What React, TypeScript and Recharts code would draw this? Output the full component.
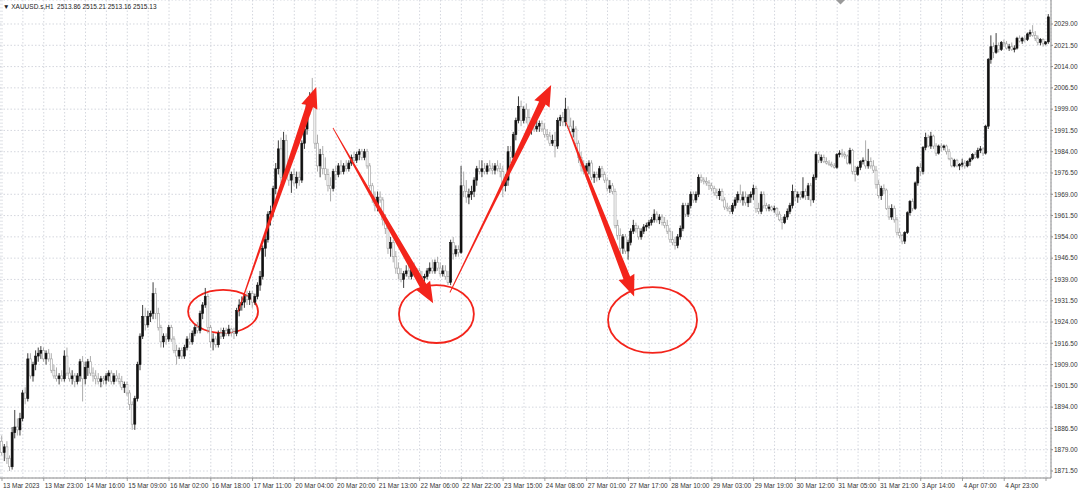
import React from 'react';
import { ComposedChart, Bar, XAxis, YAxis, CartesianGrid, ReferenceLine, ReferenceArea } from 'recharts';

const FONT = '"Liberation Sans", Arial, sans-serif';

// [open, high, low, close] per hourly bar
const week1: number[][] = [
  [1882,1884,1877,1878],[1878,1881,1875,1880],[1880,1882,1874,1876],[1876,1877,1871.5,1873],[1873,1887,1872,1885],
  [1885,1893,1883,1887],[1887,1890,1884,1886],[1886,1892,1884,1890],[1890,1900,1889,1899],[1899,1901,1895,1897],
  [1897,1913,1896,1911],[1911,1913,1904,1905],[1905,1910,1903,1909],[1909,1914,1907,1912],[1912,1915,1910,1913],
  [1913,1915.5,1911,1914],[1914,1915,1910,1911],[1911,1914,1909,1913],[1913,1914.5,1910,1911],[1911,1913,1906,1907],
  [1907,1909,1904,1905],[1905,1908,1903,1904],[1904,1906,1902,1905],[1905,1907,1903,1904],[1904,1914,1903,1912],
  [1912,1915,1905,1906],[1906,1908,1903,1904],[1904,1907,1902,1905],[1905,1906,1901,1903],[1903,1906,1902,1905],
  [1905,1911,1903,1910],[1910,1912,1896,1904],[1904,1910,1902,1908],[1908,1911,1905,1910],[1910,1912,1905,1906],
  [1906,1908,1903,1905],[1905,1907,1902,1904],[1904,1906,1902,1903],[1903,1905,1901,1904],[1904,1905,1902,1903.5],
  [1903.5,1906,1902,1905],[1905,1907,1903,1906],[1906,1907,1902,1903],[1903,1906,1902,1905],[1905,1907,1903,1904],
  [1904,1906,1902,1903],[1903,1905,1900,1901],[1901,1903,1899,1902],[1902,1903,1898,1899],[1899,1900,1893,1895],
  [1895,1896,1886,1888],[1888,1898,1886,1897],[1897,1910,1896,1909],[1909,1920,1907,1919],[1919,1930,1918,1926],
  [1926,1929,1921,1923],[1923,1928,1922,1926],[1926,1928,1924,1927],[1927,1938,1925,1934],[1934,1936,1925,1927],
  [1927,1929,1921,1922],[1922,1923,1915,1917],[1917,1920,1915,1919],[1919,1920,1916,1918],[1918,1923,1917,1922],
  [1922,1923,1917,1918],[1918,1919,1913,1914],[1914,1916,1909,1912],[1912,1915,1911,1914],[1914,1915,1911,1912],
  [1912,1916,1911,1915],[1915,1919,1914,1918],[1918,1920,1916,1917],[1917,1921,1916,1920],[1920,1923,1919,1922],
  [1922,1924,1920,1921],[1921,1928,1920,1927],[1927,1931,1925,1930],[1930,1936,1929,1933],[1933,1934,1920,1922],
  [1922,1923,1915,1917],[1917,1920,1914,1918],[1918,1919,1915,1916],[1916,1921,1915,1920],[1920,1922,1918,1919],
  [1919,1922,1918,1921],[1921,1922,1919,1920],[1920,1923,1919,1921.5],[1921.5,1922,1919,1920.5],[1920.5,1922,1918,1920],
  [1920,1929,1919,1928],[1928,1932,1926,1930],[1930,1933,1928,1931],[1931,1934,1929,1933],[1933,1935,1930,1932],
  [1932,1935,1930,1934],[1934,1935,1929,1931],[1931,1934,1930,1933],[1933,1938,1932,1937],[1937,1942,1935,1940],
  [1940,1951,1939,1950],[1950,1955,1947,1953],[1953,1963,1952,1962],[1962,1965,1958,1963],[1963,1972,1961,1971],
  [1971,1980,1969,1978],[1978,1988,1976,1985],[1985,1989,1973,1975],[1975,1991,1973,1988],
];

const week2: number[][] = [
  [1988,1990,1976,1978],[1978,1981,1972,1974],[1974,1977,1969.5,1976],[1976,1978,1972,1973],[1973,1977,1971,1975],
  [1975,1977,1972,1974],[1974,1988,1973,1987],[1987,1993,1985,1992],[1992,2002,1990,2001],[2001,2005,1997,2003],
  [2003,2010,2000,2002],[2002,2004,1985,1987],[1987,1990,1977,1979],[1979,1985,1975,1983],[1983,1986,1976,1978],
  [1978,1982,1974,1976],[1976,1978,1970,1972],[1972,1975,1966.5,1971],[1971,1978,1970,1977],[1977,1979,1974,1976],
  [1976,1980,1975,1979],[1979,1981,1976,1977],[1977,1980,1976,1979],[1979,1981,1977,1978],[1978,1981,1977,1980],
  [1980,1983,1979,1982],[1982,1984,1980,1981],[1981,1984,1980,1983],[1983,1985,1981,1984],[1984,1985,1981,1982],
  [1982,1985,1981,1984],[1984,1985,1978,1979],[1979,1980,1971,1972],[1972,1973,1966,1968],[1968,1970,1963,1965],
  [1965,1970,1963,1968],[1968,1970,1966,1967],[1967,1968,1958,1960],[1960,1962,1955,1957],[1957,1959,1948,1950],
  [1950,1954,1947,1952],[1952,1953,1945,1947],[1947,1949,1941,1943],[1943,1945,1939,1941],[1941,1943,1938,1939],
  [1939,1942,1936,1941],[1941,1944,1940,1942],[1942,1944,1939,1940],[1940,1944,1939,1943],[1943,1945,1940,1941],
  [1941,1943,1939,1942],[1942,1943,1939,1940],[1940,1942,1938.5,1939.5],[1939.5,1941,1938,1940],[1940,1943,1939,1942],
  [1942,1945,1941,1943],[1943,1946,1941,1942],[1942,1946,1941,1945],[1945,1947,1942,1943],[1943,1945,1940,1941],
  [1941,1944,1940,1942],[1942,1944,1939,1940],[1940,1942,1937,1938],[1938,1953,1937,1952],[1952,1954,1946,1948],
  [1948,1951,1947,1949.5],[1949.5,1951,1947,1948.5],[1948.5,1979,1948,1972],[1972,1977,1968,1970],[1970,1974,1966,1968],
  [1968,1971,1965.5,1969],[1969,1972,1967,1970],[1970,1975,1968,1974],[1974,1979,1972,1978],[1978,1981,1976,1977],
  [1977,1981,1975,1978],[1978,1980,1976,1977],[1977,1980,1976,1979],[1979,1981,1977,1978],[1978,1980,1976,1977.5],
  [1977.5,1980,1976,1979],[1979,1981,1977,1978],[1978,1980,1975,1977],[1977,1979,1968,1972],[1972,1976,1970,1974],
  [1974,1986,1972,1984],[1984,1986,1980,1982],[1982,1991,1981,1990],[1990,1996,1988,1995],[1995,2003.5,1994,2000],
  [2000,2002,1993,1995],[1995,2000,1994,1999],[1999,2001,1994,1996],[1996,1999,1991,1992],[1992,1995,1990,1994],
  [1994,1995,1991,1992],[1992,1995,1991,1993],[1993,1995,1991,1994],[1994,1995,1991,1992],[1992,1994,1989,1990],
  [1990,1992,1988,1989.5],[1989.5,1991,1986,1987],[1987,1990,1986,1988],[1988,1991,1982,1986],[1986,1996,1985,1995],
  [1995,1997,1993,1996],[1996,1998,1993,1994.5],[1994.5,2003,1993,1999],[1999,2000,1992,1993],[1993,1996,1990,1991],
  [1991,1995,1989,1992],[1992,1993,1986,1987],[1987,1988,1980,1982],[1982,1984,1977,1979],[1979,1981,1976,1977],
];

const week3: number[][] = [
  [1977,1980,1975,1979],[1979,1981,1976,1980],[1980,1981,1974,1975],[1975,1977,1973,1976],[1976,1977,1973.5,1975],
  [1975,1979,1974,1978],[1978,1979,1975,1976],[1976,1977,1973,1974],[1974,1975,1970,1971],[1971,1974,1969.5,1972],
  [1972,1973,1969,1970],[1970,1971,1957,1958],[1958,1960,1953,1954.5],[1954.5,1957,1948,1950],[1950,1955,1948,1954],
  [1954,1955,1948,1949],[1949,1953,1946,1952],[1952,1957,1951,1956],[1956,1960,1955,1958],[1958,1959,1955.5,1957],
  [1957,1958,1953,1954],[1954,1957,1953,1956],[1956,1958.5,1955,1957.5],[1957.5,1959,1956,1958],[1958,1960,1957,1959],
  [1959,1961,1958,1960],[1960,1963.7,1959,1962],[1962,1963,1959,1960],[1960,1962,1958.5,1961],[1961,1962,1958,1959],
  [1959,1961,1957,1958],[1958,1960,1955,1956],[1956,1957,1952,1953],[1953,1956,1951,1952],[1952,1954,1949.5,1951],
  [1951,1955,1950,1954],[1954,1958,1953,1957],[1957,1966,1956,1965],[1965,1966,1961,1962],[1962,1966,1961,1965],
  [1965,1970,1964,1969],[1969,1970,1966,1967],[1967,1970,1966,1969],[1969,1976,1968,1975],[1975,1976,1973,1974],
  [1974,1975,1972.5,1973.5],[1973.5,1975,1972,1973],[1973,1974,1970.5,1972],[1972,1973,1970,1971],[1971,1972,1968.5,1969.5],
  [1969.5,1971,1967.5,1968.5],[1968.5,1971,1967,1970],[1970,1971,1966.5,1967],[1967,1968,1963.5,1964.5],[1964.5,1966,1963,1964],
  [1964,1965,1962,1963],[1963,1966,1962,1965],[1965,1968,1964,1967],[1967,1970,1966,1969],[1969,1972.4,1966,1967],
  [1967,1970,1965,1968],[1968,1970,1965,1966],[1966,1969,1964.5,1968],[1968,1970,1966,1969],[1969,1972.4,1967,1971],
  [1971,1972,1962.5,1964],[1964,1966,1962,1963],[1963,1970,1962,1969],[1969,1970,1964,1965],[1965,1966,1963,1964],
  [1964,1965.5,1963,1964.5],[1964.5,1965,1963,1963.5],[1963.5,1965,1962.5,1964],[1964,1964.5,1961,1962],[1962,1963,1959.5,1960],
  [1960,1961,1956.6,1959],[1959,1962,1958.5,1961],[1961,1964,1960,1963],[1963,1966,1962,1965],[1965,1972.4,1964,1970],
  [1970,1971,1966.5,1968],[1968,1970,1966,1969],[1969,1970,1967,1968],[1968,1975,1967.5,1970],[1970,1971,1967,1968.5],
  [1968.5,1973,1967,1972],[1972,1973,1964.8,1967],[1967,1976,1966,1975],[1975,1984,1974,1983],[1983,1984,1980,1981],
  [1981,1983,1980,1982],[1982,1983,1980,1980.5],[1980.5,1982,1979.5,1980],[1980,1981,1979,1979.5],[1979.5,1980.5,1978.5,1979],
  [1979,1980,1978,1978.5],[1978.5,1983.5,1978,1983],[1983,1984.5,1982,1983.5],[1983.5,1985,1982,1983],[1983,1984,1981.5,1982.5],
  [1982.5,1983,1979.5,1980],[1980,1985.4,1979.5,1984.5],[1984.5,1985,1976,1977],[1977,1979,1973.5,1976],[1976,1979,1975.5,1978.5],
  [1978.5,1981,1977.5,1980.5],[1980.5,1982,1979.5,1981],[1981,1988,1978,1979],[1979,1985,1978,1980.5],[1980.5,1982,1978,1979],
  [1979,1981,1976.5,1977.5],[1977.5,1979,1971,1972.5],[1972.5,1974,1967.5,1968.5],[1968.5,1972,1967,1971],[1971,1972.5,1969,1970.5],
];

const week4: number[][] = [
  [1970.5,1971,1963.5,1964],[1964,1965,1960,1961],[1961,1965.5,1960,1964],[1964,1965,1959,1960],[1960,1961,1954.5,1955.5],
  [1955.5,1957,1953.5,1954.5],[1954.5,1955,1951.4,1952.5],[1952.5,1956,1951.5,1955.5],[1955.5,1963,1955,1962.5],[1962.5,1967,1961.5,1966.5],
  [1966.5,1967.5,1963,1964],[1964,1973.5,1963.5,1973],[1973,1979,1972,1978.5],[1978.5,1980,1975.5,1977],[1977,1986,1976,1985.5],
  [1985.5,1990.7,1984.5,1989],[1989,1990,1985.5,1986],[1986,1991,1985,1989.5],[1989.5,1990,1985,1986],[1986,1987,1982.5,1983.5],
  [1983.5,1986.5,1983,1986],[1986,1987,1984,1985.5],[1985.5,1986.5,1984.5,1986],[1986,1986.5,1983,1984],[1984,1985,1981,1981.5],
  [1981.5,1982,1978.5,1979],[1979,1981.5,1978.5,1981],[1981,1981.5,1978.5,1979],[1979,1980,1977.5,1979.5],[1979.5,1981.5,1978.5,1980],
  [1980,1981,1978,1979],[1979,1981,1978.5,1980.5],[1980.5,1982,1979,1981.5],[1981.5,1983.5,1981,1983],[1983,1984,1981.5,1982],
  [1982,1985.4,1981.5,1984.5],[1984.5,1986,1983.5,1985],[1985,1985.5,1982.5,1983.5],[1983.5,1993.5,1983,1993],[1993,2017,1992,2016.5],
  [2016.5,2025,2015,2021],[2021,2022.5,2017,2019],[2019,2025.8,2018.5,2021.5],[2021.5,2022.5,2019,2020],[2020,2023,2019.5,2022.5],
  [2022.5,2023.5,2021,2022],[2022,2023,2020,2020.5],[2020.5,2022,2019.5,2021],[2021,2022.5,2019.5,2020],[2020,2021.5,2019,2020.5],
  [2020.5,2024.5,2020,2024],[2024,2025,2022.5,2023],[2023,2024.5,2022,2024],[2024,2025,2022.5,2023.5],[2023.5,2026,2023,2025.5],
  [2025.5,2027,2024.5,2026],[2026,2028.6,2024.5,2025],[2025,2026.5,2023,2024],[2024,2025,2021.5,2022.5],[2022.5,2024,2021.5,2023.5],
  [2023.5,2024,2021,2022],[2022,2023,2021.5,2022.7],[2022.7,2032.5,2022,2031.5],
];

const timeLabels = [
  '13 Mar 2023','13 Mar 23:00','14 Mar 16:00','15 Mar 09:00','16 Mar 02:00','16 Mar 18:00','17 Mar 11:00',
  '20 Mar 04:00','20 Mar 20:00','21 Mar 13:00','22 Mar 06:00','22 Mar 22:00','23 Mar 15:00','24 Mar 08:00',
  '27 Mar 01:00','27 Mar 17:00','28 Mar 10:00','29 Mar 03:00','29 Mar 19:00','30 Mar 12:00','31 Mar 05:00',
  '31 Mar 21:00','3 Apr 14:00','4 Apr 07:00','4 Apr 23:00',
];
const BARS_PER_LABEL = 16;
const BARS_PER_GRID = 8;

const priceTicks = [
  1871.5,1879,1886.5,1894,1901.5,1909,1916.5,1924,1931.5,1939,1946.5,1954,1961.5,1969,
  1976.5,1984,1991.5,1999,2006.5,2014,2021.5,2029,
];

// Annotations (in bar index / price units)
const arrows = [
  { from: [90.4, 1927.5], to: [120.4, 2006.8], thin: 0.38 },
  { from: [126.8, 1992.4], to: [165.2, 1930.6], thin: 0.33 },
  { from: [171.6, 1934.4], to: [210.4, 2007.5], thin: 0.48 },
  { from: [216.0, 1994.5], to: [242.2, 1933.0], thin: 0.24 },
];
const circles = [
  { x: [71.3, 98.1], y: [1920.1, 1935.3] },
  { x: [152.1, 180.8], y: [1916.6, 1937.0] },
  { x: [232.2, 266.3], y: [1913.1, 1936.3] },
];

const candles = [...week1, ...week2, ...week3, ...week4].map(([o, h, l, c], i) => ({
  i, o, h, l, c, range: [l, h],
}));

const gridTicks: number[] = [];
for (let t = 0; t < candles.length; t += BARS_PER_GRID) gridTicks.push(t);

const X_DOMAIN: [number, number] = [-0.766, 401.92];
const Y_DOMAIN: [number, number] = [1869.034, 2037.456];
const RED = '#f3241b';

const Candle = (props: any) => {
  const { x, y, width, height, payload } = props;
  if (!payload) return null;
  const { o, h, l, c } = payload;
  const top = Math.min(y, y + height);
  const bot = Math.max(y, y + height);
  const span = h - l || 1;
  const py = (p: number) => top + ((h - p) / span) * (bot - top);
  const cx = x + width / 2;
  const up = c >= o;
  const bTop = py(Math.max(o, c));
  const bBot = py(Math.min(o, c));
  const bw = 2;
  return (
    <g>
      <line x1={cx} x2={cx} y1={top} y2={bot} stroke={up ? '#2a2a2a' : '#a3a3a3'} strokeWidth={0.9} />
      <rect
        x={cx - bw / 2}
        y={bTop}
        width={bw}
        height={Math.max(bBot - bTop, 0.7)}
        fill={up ? '#111' : '#fff'}
        stroke={up ? '#111' : '#9c9c9c'}
        strokeWidth={0.6}
      />
    </g>
  );
};

const makeArrow = (thin: number) => (props: any) => {
  const { x1, y1, x2, y2 } = props;
  if ([x1, y1, x2, y2].some((v) => typeof v !== 'number' || isNaN(v))) return null;
  const dx = x2 - x1, dy = y2 - y1;
  const len = Math.hypot(dx, dy);
  const ux = dx / len, uy = dy / len;
  const nx = -uy, ny = ux;
  const headLen = 20, headHalf = 8.5;
  const base = len - headLen;
  const pt = (d: number, w: number) => `${x1 + ux * d + nx * w},${y1 + uy * d + ny * w}`;
  const mid = base * thin;
  const pts = [
    pt(0, 0.45), pt(mid, 1.3), pt(base, 3.6), pt(base - 1, headHalf), pt(len, 0),
    pt(base - 1, -headHalf), pt(base, -3.6), pt(mid, -1.3), pt(0, -0.45),
  ].join(' ');
  return <polygon points={pts} fill={RED} stroke="none" />;
};

const EllipseShape = (props: any) => {
  const { x, y, width, height } = props;
  if ([x, y, width, height].some((v) => typeof v !== 'number' || isNaN(v))) return null;
  return (
    <ellipse cx={x + width / 2} cy={y + height / 2} rx={Math.abs(width) / 2} ry={Math.abs(height) / 2}
      fill="none" stroke={RED} strokeWidth={1.8} />
  );
};

const XTick = (props: any) => {
  const { x, y, payload } = props;
  const v = payload.value as number;
  const isLabel = v % BARS_PER_LABEL === 0;
  return (
    <g>
      {isLabel && <line x1={x} x2={x} y1={y} y2={y + 3} stroke="#8c8c8c" strokeWidth={0.8} />}
      {isLabel && (
        <text x={x + 1} y={y + 9.5} fontSize={6.5} fontFamily={FONT} fill="#333" textAnchor="start">
          {timeLabels[v / BARS_PER_LABEL]}
        </text>
      )}
    </g>
  );
};

export default function App() {
  return (
    <div style={{ position: 'absolute', left: 0, top: 0, width: 1080, height: 492, background: '#fff', overflow: 'hidden' }}>
      <ComposedChart width={1080} height={492} data={candles} margin={{ top: 0, right: 0, bottom: 0, left: 0 }}>
        <CartesianGrid stroke="#c9cdd5" strokeDasharray="1.5 2" strokeWidth={0.8} />
        <XAxis
          dataKey="i"
          type="number"
          domain={X_DOMAIN}
          allowDataOverflow
          ticks={gridTicks}
          interval={0}
          tick={<XTick />}
          tickLine={false}
          tickSize={0}
          tickMargin={0}
          axisLine={{ stroke: '#8c8c8c' }}
          height={14}
        />
        <YAxis
          orientation="right"
          type="number"
          domain={Y_DOMAIN}
          allowDataOverflow
          ticks={priceTicks}
          interval={0}
          width={29}
          tickSize={2}
          tickMargin={1}
          tickLine={{ stroke: '#8c8c8c' }}
          axisLine={{ stroke: '#8c8c8c' }}
          tick={{ fontSize: 6.5, fill: '#333', fontFamily: FONT, textAnchor: 'start' }}
          tickFormatter={(v: number) => v.toFixed(2)}
        />
        <Bar dataKey="range" barSize={2} shape={Candle} isAnimationActive={false} />
        {circles.map((cItem, k) => (
          <ReferenceArea key={`c${k}`} x1={cItem.x[0]} x2={cItem.x[1]} y1={cItem.y[0]} y2={cItem.y[1]}
            shape={EllipseShape} ifOverflow="visible" />
        ))}
        {arrows.map((a, k) => (
          <ReferenceLine key={`a${k}`}
            segment={[{ x: a.from[0], y: a.from[1] }, { x: a.to[0], y: a.to[1] }]}
            shape={makeArrow(a.thin)} ifOverflow="visible" />
        ))}
      </ComposedChart>
      <div style={{ position: 'absolute', left: 3, top: 3, fontSize: 6.5, fontFamily: FONT, color: '#222', whiteSpace: 'pre', lineHeight: '8px' }}>
        {'\u25BC XAUUSD.s,H1  2513.86 2515.21 2513.16 2515.13'}
      </div>
      <svg style={{ position: 'absolute', left: 836, top: 0 }} width={9} height={5}>
        <polygon points="0,0 9,0 4.5,4.5" fill="#9a9a9a" />
      </svg>
    </div>
  );
}
